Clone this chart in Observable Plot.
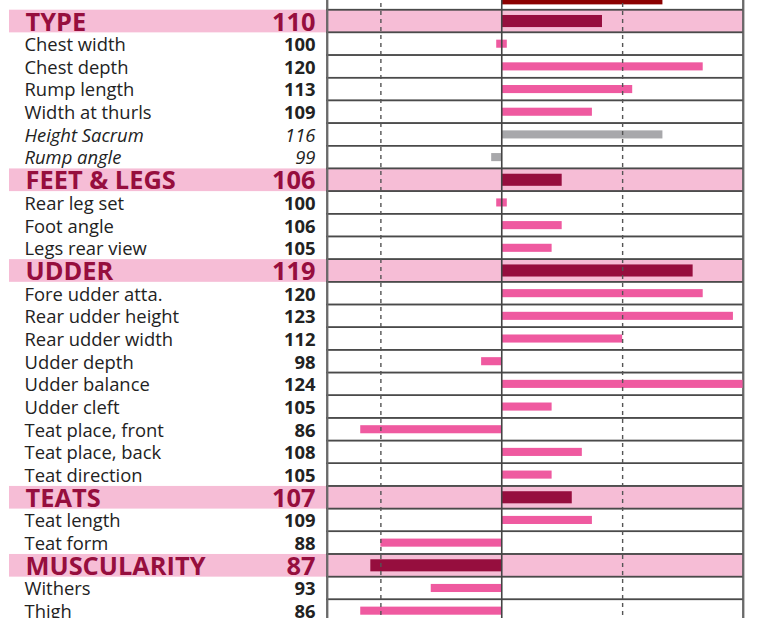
<!DOCTYPE html>
<html>
<head>
<meta charset="utf-8">
<script src="https://cdn.jsdelivr.net/npm/d3@7"></script>
<script src="https://cdn.jsdelivr.net/npm/@observablehq/plot@0.6"></script>
<style>
  html, body { margin: 0; padding: 0; background: #fff; overflow: hidden; }
  #chart svg { display: block; margin-top: -13.3px; }
</style>
</head>
<body>
<div id="chart"></div>
<script>
// Row labels (first row is the partially visible row above the crop)
const labels = ["", "TYPE", "Chest width", "Chest depth", "Rump length", "Width at thurls", "Height Sacrum", "Rump angle",
  "FEET & LEGS", "Rear leg set", "Foot angle", "Legs rear view",
  "UDDER", "Fore udder atta.", "Rear udder height", "Rear udder width", "Udder depth", "Udder balance", "Udder cleft",
  "Teat place, front", "Teat place, back", "Teat direction",
  "TEATS", "Teat length", "Teat form",
  "MUSCULARITY", "Withers", "Thigh"];
const values = [116, 110, 100, 120, 113, 109, 116, 99,
  106, 100, 106, 105,
  119, 120, 123, 112, 98, 124, 105,
  86, 108, 105,
  107, 109, 88,
  87, 93, 86];
const kinds = ["total", "section", "trait", "trait", "trait", "trait", "extra", "extra",
  "section", "trait", "trait", "trait",
  "section", "trait", "trait", "trait", "trait", "trait", "trait",
  "trait", "trait", "trait",
  "section", "trait", "trait",
  "section", "trait", "trait"];
const xDomain = [82.7, 124];
const guideDashed = [88, 112];
const base = 100;

const rows = labels.map((label, i) => ({
  key: i + ":" + label, label, value: values[i], kind: kinds[i],
  x1: values[i] === base ? base - 0.5 : base,
  x2: values[i] === base ? base + 0.55 : values[i]
}));
const keys = rows.map(d => d.key);
const sections = rows.filter(d => d.kind === "section");
const traits = rows.filter(d => d.kind === "trait");
const extras = rows.filter(d => d.kind === "extra");
const totals = rows.filter(d => d.kind === "total");

const H = 635;
const plot = Plot.plot({
  width: 774,
  height: H,
  marginLeft: 9,
  marginRight: 31,
  marginTop: 0,
  marginBottom: 0,
  style: { fontFamily: "'Open Sans', sans-serif", background: "#fff" },
  x: { domain: xDomain, range: [327, 743], axis: null },
  y: { domain: keys, range: [0, H], padding: 0, round: false, axis: null },
  marks: [
    Plot.cell(sections, { y: "key", fill: "#f6bdd6" }),
    Plot.barX(rows, { y: "key", x1: xDomain[0], x2: xDomain[1], fill: "none", stroke: "#4a4a4a", strokeWidth: 1.5 }),
    Plot.barX(totals, { y: "key", x1: "x1", x2: "x2", fill: "#8b0000", insetTop: 5.3, insetBottom: 5.3 }),
    Plot.barX(sections, { y: "key", x1: "x1", x2: "x2", fill: "#960e3e", insetTop: 5.3, insetBottom: 5.3 }),
    Plot.barX(traits, { y: "key", x1: "x1", x2: "x2", fill: "#ef5aa0", insetTop: 7.3, insetBottom: 7.3 }),
    Plot.barX(extras, { y: "key", x1: "x1", x2: "x2", fill: "#a8a8ab", insetTop: 7.3, insetBottom: 7.3 }),
    Plot.ruleX(guideDashed, { stroke: "#555", strokeWidth: 1.4, strokeDasharray: "4,4" }),
    Plot.ruleX([base], { stroke: "#444", strokeWidth: 1.6 }),
    Plot.ruleX(xDomain, { stroke: "#6a6a6a", strokeWidth: 1.8 }),
    // labels
    Plot.text(sections, { y: "key", text: "label", frameAnchor: "left", dx: 16, dy: 1, textAnchor: "start",
      fill: "#960e3e", fontSize: 25.4, fontWeight: "bold" }),
    Plot.text(sections, { y: "key", text: d => String(d.value), frameAnchor: "left", dx: 306, dy: 1, textAnchor: "end",
      fill: "#960e3e", fontSize: 25.4, fontWeight: "bold" }),
    Plot.text(traits, { y: "key", text: "label", frameAnchor: "left", dx: 15, dy: 1, textAnchor: "start",
      fill: "#222", fontSize: 18.4 }),
    Plot.text(traits, { y: "key", text: d => String(d.value), frameAnchor: "left", dx: 306, dy: 1, textAnchor: "end",
      fill: "#222", fontSize: 18.4, fontWeight: "bold" }),
    Plot.text(extras, { y: "key", text: "label", frameAnchor: "left", dx: 15, dy: 1, textAnchor: "start",
      fill: "#222", fontSize: 18.4, fontStyle: "italic" }),
    Plot.text(extras, { y: "key", text: d => String(d.value), frameAnchor: "left", dx: 306, dy: 1, textAnchor: "end",
      fill: "#222", fontSize: 18.4, fontStyle: "italic" })
  ]
});
document.getElementById("chart").appendChild(plot);
</script>
</body>
</html>
